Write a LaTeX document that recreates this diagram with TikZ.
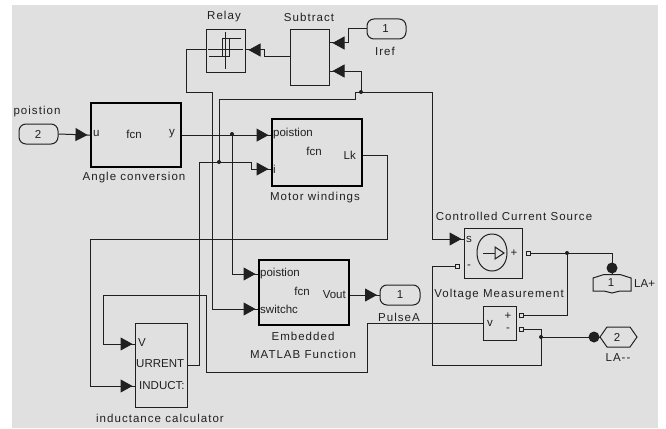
\documentclass[tikz,border=0pt]{standalone}
\usepackage{fontspec}
\setmainfont{Liberation Sans}[Ligatures=NoCommon]
\usetikzlibrary{arrows.meta,decorations.markings}
\definecolor{bg}{HTML}{E0E0E0}
\definecolor{ink}{HTML}{202020}
\tikzset{
 wire/.style={draw=ink,line width=1pt},
 arr/.style={postaction={decorate,decoration={markings,mark=at position -2.5pt with {\arrow[ink]{Triangle[length=12pt,width=13pt]}}}}},
 block/.style={draw=ink,line width=1pt,inner sep=0pt},
 thick block/.style={draw=black,line width=2.2pt,inner sep=0pt},
 lab/.style={inner sep=0pt,font=\fontsize{11.5}{13}\selectfont,text=ink},
 wlab/.style={lab,font=\fontsize{11.5}{13}\selectfont\addfontfeatures{LetterSpace=9}},
 jun/.style={circle,fill=ink,inner sep=0pt,minimum size=4pt},
 term/.style={rectangle,draw=ink,fill=bg,line width=1pt,minimum size=4pt,inner sep=0pt},
 port/.style={rounded corners=7pt,draw=ink,line width=1pt,inner sep=0pt},
}
\begin{document}
\begin{tikzpicture}[x=1pt,y=-1pt]
\useasboundingbox (0,0) rectangle (666,428);
\fill[white] (0,0) rectangle (666,428);
\fill[bg] (12,5) rectangle (658,428);
% blocks
\node[block,anchor=north west,minimum width=39pt,minimum height=43pt] (relay) at (206,29) {};
\node[block,anchor=north west,minimum width=39pt,minimum height=56pt] (sub) at (290,29) {};
\node[thick block,anchor=north west,minimum width=90pt,minimum height=64pt] (ang) at (90,102) {};
\node[thick block,anchor=north west,minimum width=90pt,minimum height=67pt] (mot) at (271,118) {};
\node[thick block,anchor=north west,minimum width=90pt,minimum height=65pt] (emb) at (258,259) {};
\node[block,anchor=north west,minimum width=52pt,minimum height=84pt] (ind) at (135,323) {};
\node[block,anchor=north west,minimum width=58pt,minimum height=50pt] (ccs) at (464,228) {};
\node[block,anchor=north west,minimum width=33pt,minimum height=34pt] (vm) at (483,306) {};
% ports
\node[port,minimum width=39pt,minimum height=20pt] (pos) at (38.5,134) {};
\node[port,minimum width=39pt,minimum height=20pt] (iref) at (386.5,29) {};
\node[port,minimum width=40pt,minimum height=20pt] (pulse) at (400,295) {};
\coordinate (lap) at (612,275);
\coordinate (lam) at (600,337);
% LA+ / LA- shapes
\draw[wire] (593,278) -- (604,274.5) -- (620,274.5) -- (631,278) -- (631,291) -- (620,291) -- (612,293) -- (604,291) -- (593,291) -- cycle;
\draw[wire] (600,337) -- (607,327) -- (630,327) -- (637,337) -- (630,347) -- (607,347) -- cycle;
% named points
\coordinate (j1) at (232,134);
\coordinate (j2) at (219,162);
\coordinate (j3) at (361,92);
\coordinate (j4) at (567,253);
\coordinate (j5) at (541,337);
\coordinate (cp) at (528,253);
\coordinate (cm) at (457,266);
\coordinate (vp) at (521,315);
\coordinate (vn) at (521,329);
% wires
\draw[wire,arr] (pos.east) -- (ang.west);
\draw[wire,arr] (ang.east) -- (mot.west |- ang.east);
\draw[wire,arr] (j1) |- (emb.west |- 0,274);
\draw[wire,arr] (ind.east |- 0,365) -- (199,365) -- (199,162) -- (251,162) -- (251,169) -- (mot.west |- 0,169);
\draw[wire] (j2) -- (219,99) -- (355,99) -- (355,92) -- (j3);
\draw[wire,arr] (j3) -- (361,71) -- (sub.east |- 0,71);
\draw[wire,arr] (j3) -- (432,92) -- (432,239) -- (ccs.west |- 0,239);
\draw[wire,arr] (sub.west |- 0,57) -- (264,57) -- (264,50) -- (relay.east |- 0,50);
\draw[wire,arr] (iref.west) -- (348,29) -- (348,43) -- (sub.east |- 0,43);
\draw[wire,arr] (relay.west |- 0,50) -- (186,50) -- (186,92) -- (212,92) -- (212,309) -- (emb.west |- 0,309);
\draw[wire,arr] (mot.east |- 0,155) -- (387,155) -- (387,239) -- (90,239) -- (90,386) -- (ind.west |- 0,386);
\draw[wire,arr] (vm.west |- 0,323) -- (367,323) -- (367,372) -- (206,372) -- (206,295) -- (103,295) -- (103,344) -- (ind.west |- 0,344);
\draw[wire,arr] (emb.east |- pulse.west) -- (pulse.west);
\draw[wire] (cm) -- (432,266) -- (432,365) -- (541,365) -- (j5);
\draw[wire] (vn) -- (541,329) -- (j5);
\draw[wire] (j5) -- (lam);
\draw[wire] (vp) -- (567,315) -- (j4);
\draw[wire] (cp) -- (612,253) -- (lap);
% tips to outports
\fill[ink] (612,268) circle (5.5pt);
\fill[ink] (594,337) circle (5.5pt);
% junctions
\foreach \p in {j1,j2,j3,j4,j5} \node[jun] at (\p) {};
\foreach \p in {cp,cm,vp,vn} \node[term] at (\p) {};
% Relay icon
\draw[wire] (225,32) -- (225,69);
\draw[wire] (208,50) -- (243,50);
\draw[wire] (241,39) -- (222,39) -- (222,57) -- (229,57) -- (229,39);
\draw[wire] (209,57) -- (222,57);
% CCS icon
\draw[wire] (492,234) .. controls (502,234) and (507,243) .. (507,253) .. controls (507,264) and (500,271) .. (492,271) .. controls (484,271) and (477,264) .. (477,253) .. controls (477,243) and (482,234) .. (492,234) -- cycle;
\draw[wire] (483,253) -- (495,253);
\draw[wire] (495,247) -- (504,253) -- (495,259) -- cycle;
% text
\node[wlab] at (224,17) {Relay};
\node[wlab] at (309,17) {Subtract};
\node[lab] at (385.5,29) {1};
\node[wlab] at (385,51) {Iref};
\node[wlab] at (37,112) {poistion};
\node[lab] at (38,134) {2};
\node[lab,anchor=west] at (93,134) {u};
\node[lab] at (134,134) {fcn};
\node[lab,anchor=east] at (175,134) {y};
\node[wlab] at (134,178) {Angle conversion};
\node[lab,anchor=west] at (273,134) {poistion};
\node[lab] at (314,151) {fcn};
\node[lab,anchor=west] at (273,169) {i};
\node[lab,anchor=east] at (356,155) {Lk};
\node[wlab] at (315,198) {Motor windings};
\node[lab,anchor=west] at (260,274) {poistion};
\node[lab] at (302,291) {fcn};
\node[lab,anchor=west] at (260,309) {switchc};
\node[lab,anchor=east] at (346,295) {Vout};
\node[wlab] at (303,336) {Embedded};
\node[wlab] at (303,354) {MATLAB Function};
\node[lab] at (400,295) {1};
\node[wlab] at (399,317) {PulseA};
\node[lab,anchor=west] at (138,343) {V};
\node[lab,anchor=west] at (136,364) {URRENT};
\node[lab,anchor=west] at (139,386) {INDUCT:};
\node[wlab] at (160,418) {inductance calculator};
\node[wlab] at (514,216) {Controlled Current Source};
\node[lab] at (469,239) {s};
\node[lab] at (469,267) {-};
\node[lab] at (514,253) {+};
\node[wlab] at (499,295) {Voltage Measurement};
\node[lab] at (490,323) {v};
\node[lab] at (508,316) {+};
\node[lab] at (508,330) {-};
\node[lab] at (611,283) {1};
\node[lab,anchor=west] at (634,284) {LA+};
\node[lab] at (617,337) {2};
\node[wlab] at (618,358) {LA-{}-};
\end{tikzpicture}
\end{document}
